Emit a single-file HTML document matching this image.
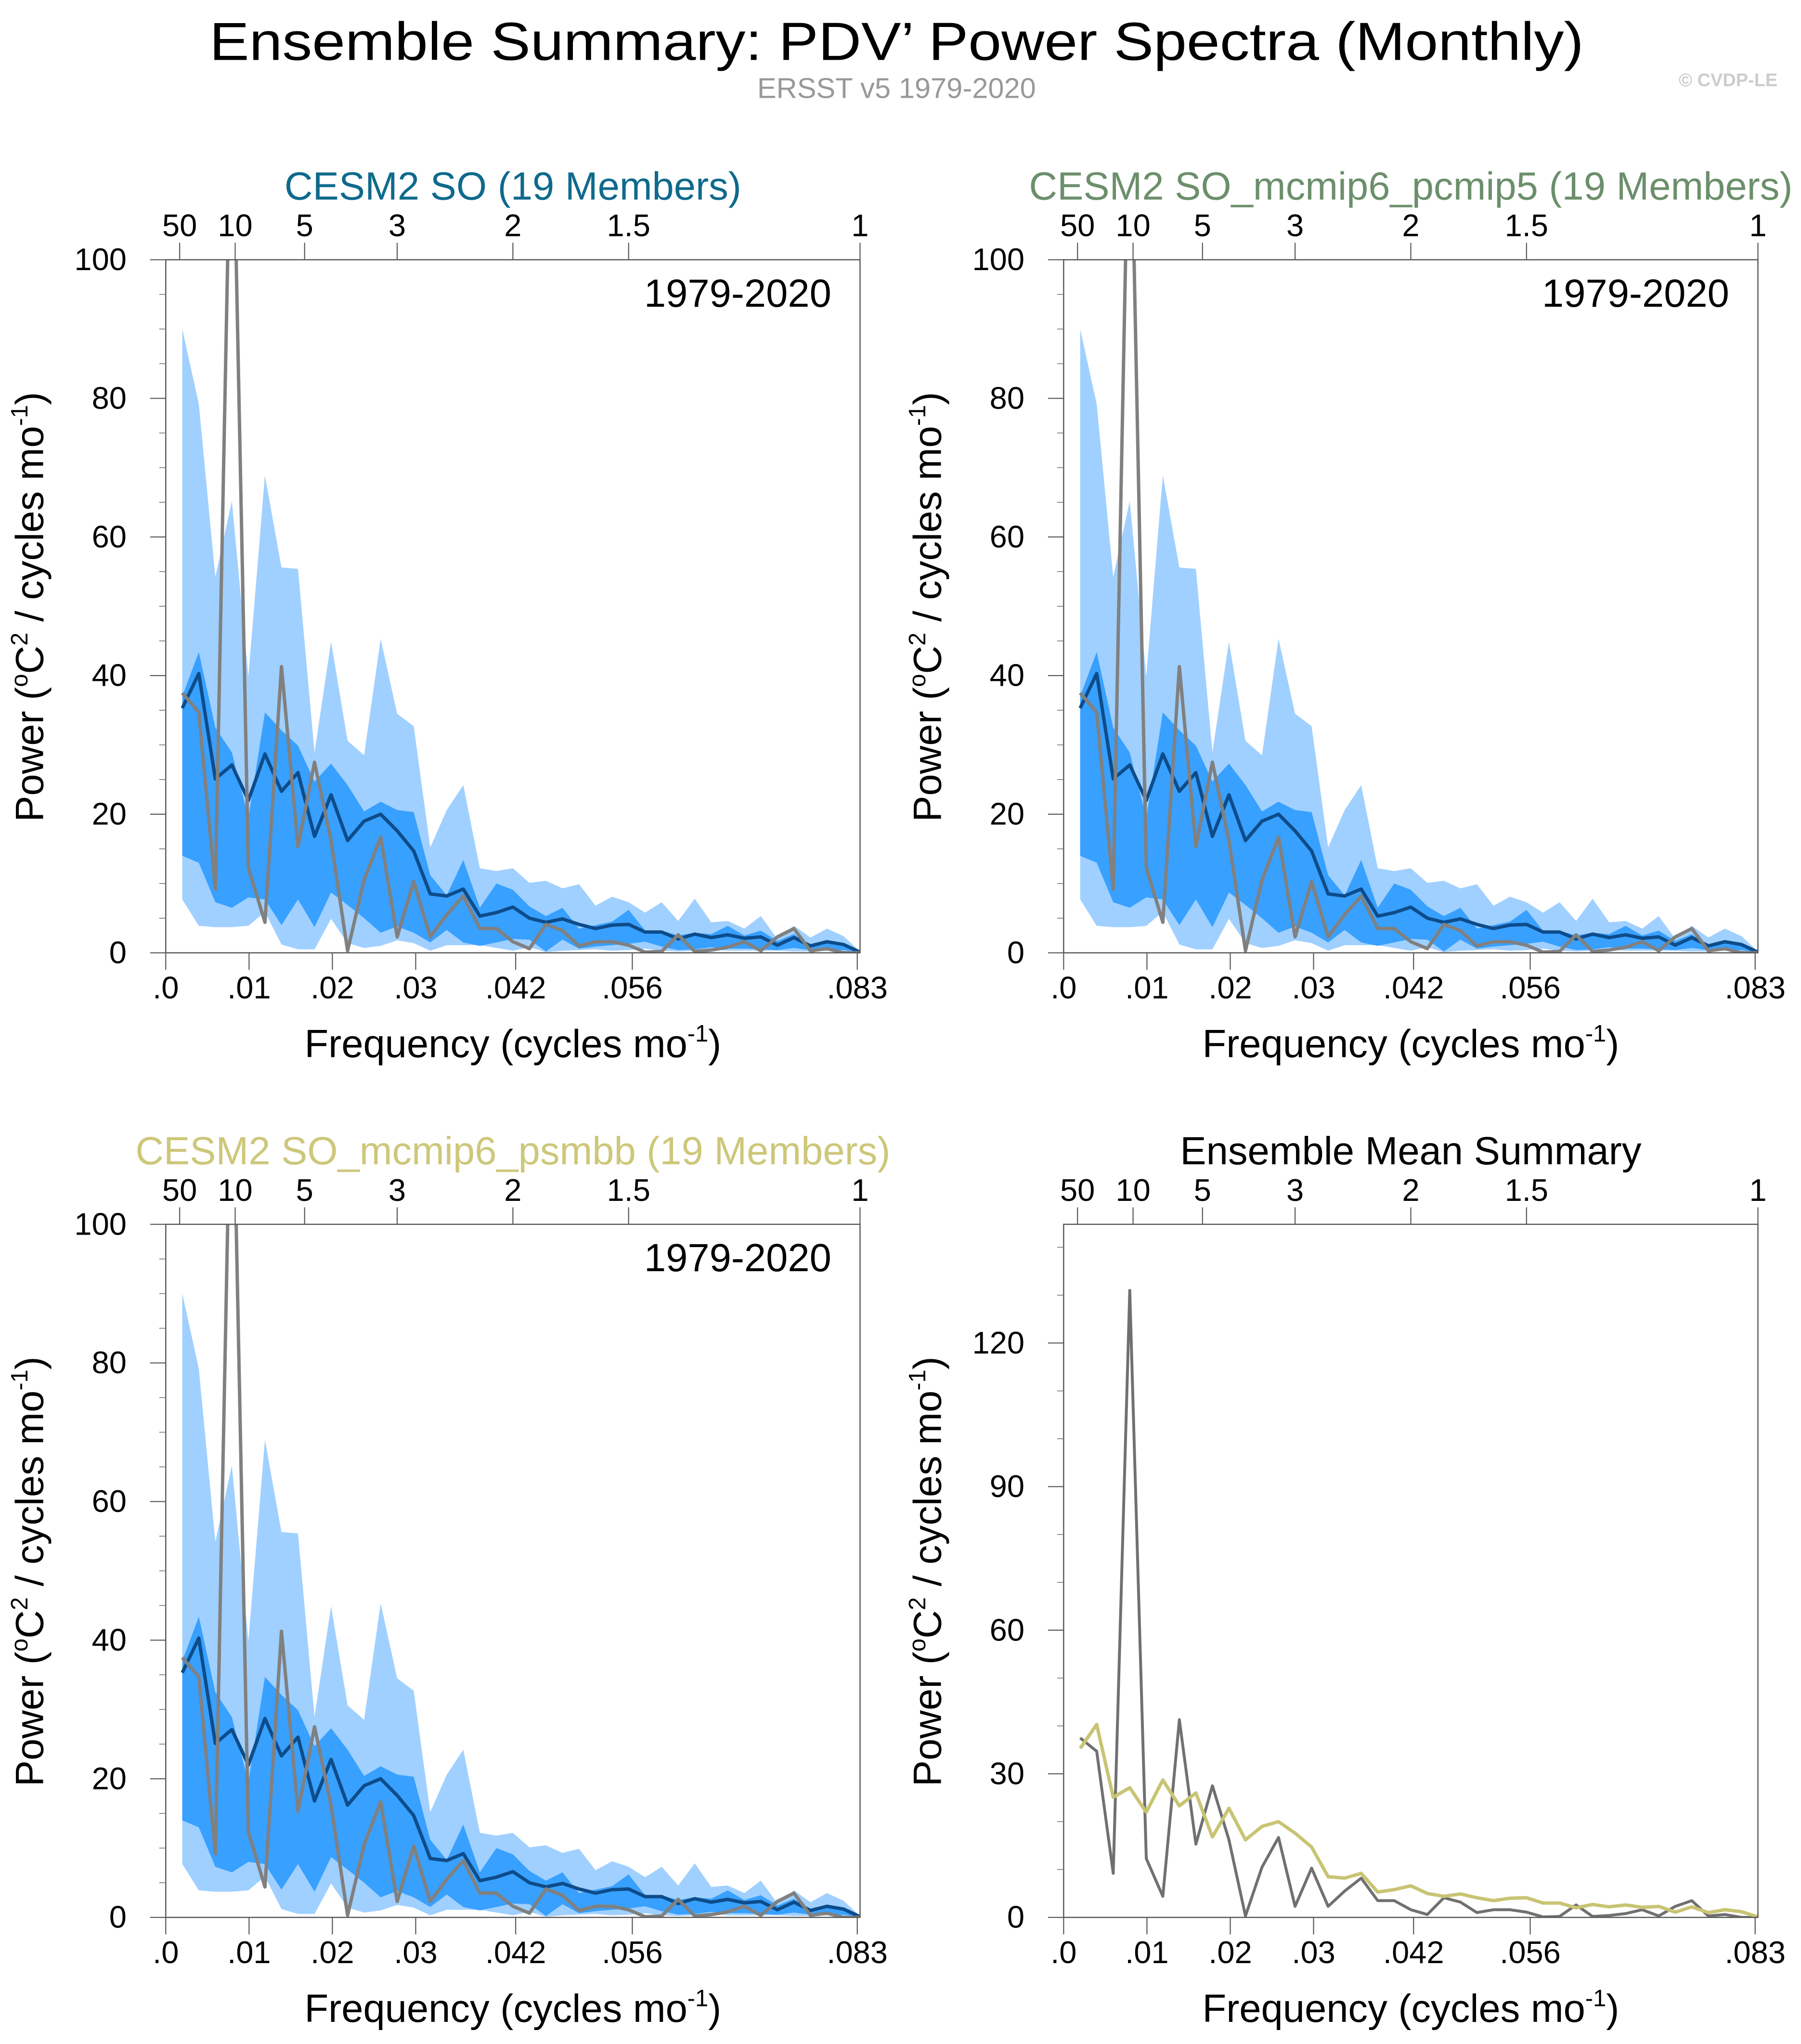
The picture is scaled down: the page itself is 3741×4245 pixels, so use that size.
<!DOCTYPE html>
<html><head><meta charset="utf-8"><style>
html,body{margin:0;padding:0;background:#fff}
svg{display:block}
text{font-family:"Liberation Sans",Arial,sans-serif}
</style></head><body>
<svg id="fig" xmlns="http://www.w3.org/2000/svg" width="3741" height="4245" viewBox="0 0 1380 1566" preserveAspectRatio="none">
<rect width="1380" height="1566" fill="#fff"/>
<text x="687" y="46" font-size="41" text-anchor="middle" textLength="1053" lengthAdjust="spacingAndGlyphs">Ensemble Summary: PDV’ Power Spectra (Monthly)</text>
<text x="687" y="75" font-size="22" fill="#999" text-anchor="middle">ERSST v5 1979-2020</text>
<text x="1362" y="66" font-size="14" fill="#ccc" font-weight="bold" text-anchor="end">© CVDP-LE</text>
</svg>
<script>
const freqIdx = [1,2,3,4,5,6,7,8,9,10,11,12,13,14,15,16,17,18,19,20,21,22,23,24,25,26,27,28,29,30,31,32,33,34,35,36,37,38,39,40,41,42];
const ensMean = [35.3,40.3,25.1,27.1,22.0,28.7,23.3,26.0,16.8,22.8,16.2,19.0,20.0,17.6,14.7,8.5,8.2,9.2,5.3,5.8,6.6,5.0,4.4,4.9,4.1,3.5,4.0,4.1,3.0,3.0,2.0,2.7,2.2,2.6,2.1,2.3,1.1,2.2,1.0,1.6,1.2,0.1];
const obsSpec = [37.5,34.7,9.2,131,12.3,4.4,41.3,15.3,27.5,16.2,0.3,10.5,16.7,2.3,10.3,2.3,5.5,8.2,3.5,3.5,1.6,0.6,4.1,3.2,1.0,1.6,1.6,1.1,0.1,0.2,2.6,0.2,0.4,0.8,1.6,0.3,2.3,3.5,0.3,0.6,0,0];
const hi90 = [90,79.2,54.2,65.2,39.9,68.9,55.6,55.4,28.9,44.9,30.6,28.5,45.3,34.5,32.7,15.2,20.6,24.2,12.2,11.8,12.2,10.1,10.4,9.3,9.9,6.8,8.1,7.3,5.8,7.3,4.6,7.8,4.4,4.6,3.5,5.3,2.0,3.9,2.2,3.5,2.4,0.2];
const hi75 = [37,43.4,32.5,28.9,19.5,34.7,32.1,29.9,24.7,27.3,24.2,20.4,21.8,20.6,20.3,11.2,8.3,13.4,6.5,10.0,9.1,6.7,5.3,6.5,3.5,4.0,4.5,6.2,3.2,3.2,2.5,2.9,2.7,3.9,2.5,3.2,1.7,2.7,1.0,1.6,1.2,0.2];
const lo25 = [14.0,13.0,7.3,6.5,8.0,7.7,4.0,7.7,3.7,8.7,6.9,5.0,2.9,3.8,2.9,1.5,3.3,1.5,1.0,1.5,2.0,1.9,0.2,1.9,0.6,0.9,1.1,1.3,1.6,0.9,0.4,0.5,0.8,0.6,0.6,0.5,0.4,0.7,0.4,0.4,0.4,0.1];
const lo10 = [7.7,3.9,3.7,3.7,3.9,5.9,1.2,0.5,0.5,4.9,1.4,0.7,1.0,1.8,1.4,0.3,1.1,1.1,1.1,0.7,0.3,0.8,0.1,0.3,0.4,0.5,0.3,0.4,0.6,0.3,0.2,0.3,0.5,0.3,0.3,0.3,0.3,0.2,0.2,0.3,0.2,0.1];
const bottomTicks = [0,0.01,0.02,0.03,0.042,0.056,0.083];
const bottomTickLabels = [".0",".01",".02",".03",".042",".056",".083"];
const periodYears = [50,10,5,3,2,1.5,1];
const periodLabels = ["50","10","5","3","2","1.5","1"];
const yTicksA = [0,20,40,60,80,100];
const yTicksB = [0,30,60,90,120];

const NS = "http://www.w3.org/2000/svg";
const svg = document.getElementById('fig');
const XMAX = 1/12;
function mk(tag, attrs, parent){
  const e = document.createElementNS(NS, tag);
  for (const k in attrs) e.setAttribute(k, attrs[k]);
  (parent||svg).appendChild(e);
  return e;
}
let clipN = 0;
function panel(cfg){
  const L=cfg.x, T=cfg.y, W=532, H=531, R=L+W, B=T+H;
  const g = mk('g',{});
  
  
  const xs = f => L + f/XMAX*W;
  const ys = v => B - v/cfg.ymax*H;
  const fx = i => xs(freqIdx[i]/504);
  const cid = 'clip'+(clipN++);
  const cp = mk('clipPath',{id:cid}, g);
  mk('rect',{x:L,y:T,width:W,height:H}, cp);
  const plot = mk('g',{'clip-path':'url(#'+cid+')'}, g);
  if (cfg.bands){
    const band = (hi, lo, col, nm) => {
      let d = '';
      for (let i=0;i<hi.length;i++) d += (i?'L':'M')+fx(i).toFixed(2)+','+ys(hi[i]).toFixed(2);
      for (let i=lo.length-1;i>=0;i--) d += 'L'+fx(i).toFixed(2)+','+ys(lo[i]).toFixed(2);
      const p = mk('path',{d:d+'Z',fill:col}, plot);
      
      
    };
    band(hi90, lo10, '#a0d0ff', 'outer-range-band');
    band(hi75, lo25, '#38a0ff', 'inner-range-band');
  }
  const line = (vals, col, wdt, nm) => {
    let d='';
    for (let i=0;i<vals.length;i++) d += (i?'L':'M')+fx(i).toFixed(2)+','+ys(vals[i]).toFixed(2);
    const p = mk('path',{d:d,fill:'none',stroke:col,'stroke-width':wdt,'stroke-linejoin':'round'}, plot);
    
    
  };
  if (cfg.bands){
    line(ensMean, '#0d4c8a', 2.6, 'ensemble-mean-line');
    line(obsSpec, '#808080', 2.6, 'observed-line');
  } else {
    line(obsSpec, '#707070', 2.2, 'observed-line');
    line(ensMean, '#c8c473', 2.6, 'ensemble-mean-line');
  }
  const fr = mk('rect',{x:L,y:T,width:W,height:H,fill:'none',stroke:'#555','stroke-width':0.9}, g);
  
  
  bottomTicks.forEach((t,i)=>{
    const x = xs(t);
    mk('line',{x1:x,x2:x,y1:B,y2:B+13,stroke:'#555','stroke-width':0.8}, g);
    const tx = mk('text',{x:x,y:B+35,'font-size':24,'text-anchor':'middle'}, g);
    
    
    tx.textContent = bottomTickLabels[i];
  });
  periodYears.forEach((p,i)=>{
    const x = xs(1/(12*p));
    mk('line',{x1:x,x2:x,y1:T,y2:T-13,stroke:'#555','stroke-width':0.8}, g);
    const tx = mk('text',{x:x,y:T-18,'font-size':24,'text-anchor':'middle'}, g);
    
    
    tx.textContent = periodLabels[i];
  });
  for (let v=0; v<=cfg.ymax+1e-9; v+=cfg.minor){
    mk('line',{x1:L,x2:L-5,y1:ys(v),y2:ys(v),stroke:'#777','stroke-width':0.6}, g);
  }
  cfg.yticks.forEach(v=>{
    mk('line',{x1:L,x2:L-12,y1:ys(v),y2:ys(v),stroke:'#555','stroke-width':0.8}, g);
    const tx = mk('text',{x:L-30,y:ys(v)+8,'font-size':24,'text-anchor':'end'}, g);
    
    
    tx.textContent = String(v);
  });
  const xt = mk('text',{x:L+266,y:B+80,'font-size':30,'text-anchor':'middle'}, g);
  
  
  xt.innerHTML = 'Frequency (cycles mo<tspan dy="-12" font-size="18">-1</tspan><tspan dy="12">)</tspan>';
  const yx = L-94, yy = T+266;
  const ytl = mk('text',{x:yx,y:yy,'font-size':30,'text-anchor':'middle',transform:'rotate(-90 '+yx+' '+yy+')'}, g);
  
  
  ytl.innerHTML = 'Power (<tspan dy="-12" font-size="18">o</tspan><tspan dy="12">C</tspan><tspan dy="-12" font-size="18">2</tspan><tspan dy="12"> / cycles mo</tspan><tspan dy="-12" font-size="18">-1</tspan><tspan dy="12">)</tspan>';
  const pt = mk('text',{x:L+266,y:T-46,'font-size':30,'text-anchor':'middle',fill:cfg.color}, g);
  
  
  pt.textContent = cfg.title;
  if (cfg.bands){
    const yr = mk('text',{x:R-22,y:T+36,'font-size':30,'text-anchor':'end'}, g);
    
    
    yr.textContent = '1979-2020';
  }
}
panel({name:'panel-cesm2-so', x:127, y:199, ymax:100, yticks:yTicksA, minor:5, bands:true, color:'#0e6a8c', title:'CESM2 SO (19 Members)'});
panel({name:'panel-cesm2-pcmip5', x:815, y:199, ymax:100, yticks:yTicksA, minor:5, bands:true, color:'#6b8f6b', title:'CESM2 SO_mcmip6_pcmip5 (19 Members)'});
panel({name:'panel-cesm2-psmbb', x:127, y:938, ymax:100, yticks:yTicksA, minor:5, bands:true, color:'#cdc77a', title:'CESM2 SO_mcmip6_psmbb (19 Members)'});
panel({name:'panel-ensemble-mean-summary', x:815, y:938, ymax:144.8, yticks:yTicksB, minor:10, bands:false, color:'#000', title:'Ensemble Mean Summary'});
</script>
</body></html>
